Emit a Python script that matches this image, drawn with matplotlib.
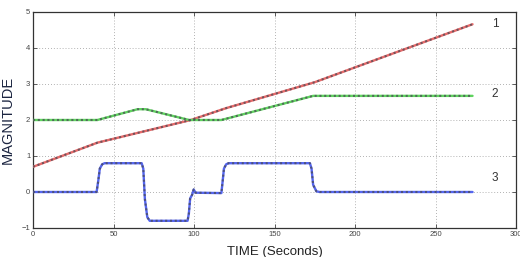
import matplotlib
matplotlib.use("Agg")
import matplotlib.pyplot as plt

plt.rcParams['font.family'] = ['Liberation Sans', 'DejaVu Sans']

# Series 1 (red)
t1 = [0, 40, 98, 120, 175, 273]
y1 = [0.70, 1.37, 2.00, 2.33, 3.05, 4.66]
# Series 2 (green)
t2 = [0, 40, 50, 65, 70, 97, 117, 174, 273]
y2 = [2.00, 2.00, 2.12, 2.30, 2.30, 2.00, 2.00, 2.67, 2.67]
# Series 3 (blue)
t3 = [0, 39.5, 40.5, 41.5, 43, 44.5, 67.5, 68.5, 69.5, 71, 72.5, 96, 96.8, 97.6, 98.8, 99.8, 101, 117,
      117.8, 118.6, 120, 121.5, 172, 173, 174, 176, 178, 273]
y3 = [0, 0, 0.3, 0.65, 0.77, 0.80, 0.80, 0.65, -0.2, -0.7, -0.80, -0.80, -0.6, -0.18, -0.08, 0.07, -0.02, -0.03,
      0.3, 0.65, 0.77, 0.80, 0.80, 0.65, 0.2, 0.02, 0.0, 0.0]

xticks = [0, 50, 100, 150, 200, 250, 300]
yticks = [-1, 0, 1, 2, 3, 4, 5]
labels = ["1", "2", "3"]
label_pos_y = [4.66, 2.71, 0.38]

fig = plt.figure(figsize=(5.2, 2.57), dpi=100)
ax = fig.add_axes([33/520, 1-228/257, (516-33)/520, (228-12)/257])

series = [(t1, y1, '#e86a6a'), (t2, y2, '#5fd45f'), (t3, y3, '#5566f0')]
for t, y, c in series:
    ax.plot(t, y, color=c, lw=1.7, solid_capstyle='round', zorder=3)
    ax.plot(t, y, color='#4a4a55', lw=1.5, linestyle=(0, (1, 1.3)), zorder=4, alpha=0.75)

for lab, yy in zip(labels, label_pos_y):
    ax.text(285, yy, lab, fontsize=8.5, color='#333333', ha='left', va='center')

ax.set_xlim(0, 300)
ax.set_ylim(-1, 5)
ax.set_xticks(xticks)
ax.set_yticks(yticks)
ax.tick_params(direction='in', top=True, right=True, labelsize=5.5, labelcolor='#444444',
               length=3, width=0.6, color='#444444', pad=2)
ax.grid(True, linestyle=(0, (1, 2.5)), color='#999999', lw=0.6)
for s in ax.spines.values():
    s.set_color('#333333')
    s.set_linewidth(0.9)

ax.set_xlabel('TIME (Seconds)', fontsize=9.5, color='#222222', labelpad=6)
ax.set_ylabel('MAGNITUDE', fontsize=10.5, color='#1c2541', labelpad=5)

fig.savefig('out.png', dpi=100)
